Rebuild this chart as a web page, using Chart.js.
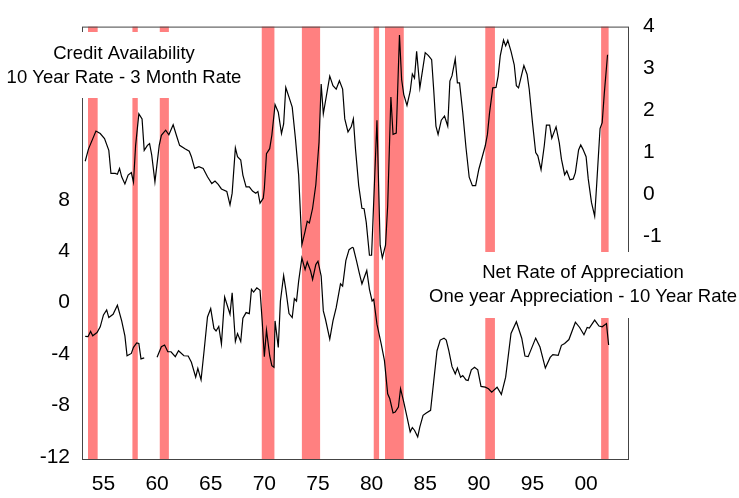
<!DOCTYPE html>
<html>
<head>
<meta charset="utf-8">
<script src="https://cdn.jsdelivr.net/npm/chart.js@4"></script>
<style>
  body { margin: 0; background: #fff; }
  #chart { display: block; }
</style>
</head>
<body>
<canvas id="chart" width="739" height="498"></canvas>
<script>
// Credit availability: 10 year rate - 3 month rate (right axis)
const creditYears = [1953.3, 1953.6, 1954.3, 1954.7, 1955.1, 1955.5, 1955.7, 1956.1, 1956.3, 1956.5, 1956.7, 1957.0, 1957.3, 1957.6, 1957.8, 1958.0, 1958.3, 1958.6, 1958.8, 1959.1, 1959.3, 1959.5, 1959.8, 1960.2, 1960.4, 1960.8, 1961.1, 1961.5, 1961.8, 1962.1, 1962.6, 1963.0, 1963.2, 1963.5, 1963.9, 1964.3, 1964.7, 1965.1, 1965.4, 1965.7, 1966.0, 1966.5, 1966.8, 1967.0, 1967.3, 1967.5, 1967.8, 1968.0, 1968.3, 1968.6, 1968.9, 1969.2, 1969.4, 1969.6, 1969.9, 1970.0, 1970.2, 1970.5, 1970.7, 1971.0, 1971.3, 1971.6, 1971.8, 1972.0, 1972.3, 1972.6, 1972.9, 1973.2, 1973.5, 1973.8, 1974.0, 1974.2, 1974.5, 1974.8, 1975.1, 1975.3, 1975.5, 1976.1, 1976.4, 1976.7, 1977.0, 1977.3, 1977.5, 1977.8, 1978.1, 1978.3, 1978.5, 1978.8, 1979.1, 1979.3, 1979.5, 1979.8, 1980.0, 1980.5, 1980.8, 1981.0, 1981.3, 1981.5, 1981.8, 1982.0, 1982.3, 1982.6, 1982.8, 1983.0, 1983.3, 1983.6, 1983.8, 1984.0, 1984.2, 1984.5, 1985.0, 1985.3, 1985.6, 1985.8, 1986.0, 1986.2, 1986.5, 1986.8, 1987.1, 1987.3, 1987.5, 1987.8, 1988.0, 1988.2, 1988.5, 1988.8, 1989.1, 1989.4, 1989.7, 1990.0, 1990.3, 1990.6, 1990.8, 1991.0, 1991.3, 1991.6, 1991.8, 1992.0, 1992.3, 1992.5, 1992.7, 1993.0, 1993.3, 1993.5, 1993.7, 1994.0, 1994.2, 1994.5, 1994.7, 1995.0, 1995.3, 1995.5, 1995.8, 1996.1, 1996.3, 1996.6, 1996.8, 1997.2, 1997.5, 1997.7, 1998.0, 1998.2, 1998.5, 1998.8, 1999.0, 1999.3, 1999.5, 1999.7, 2000.0, 2000.2, 2000.5, 2000.8, 2001.0, 2001.3, 2001.5, 2001.7, 2002.0];
const creditValues = [0.79, 1.08, 1.51, 1.45, 1.33, 1.05, 0.50, 0.50, 0.48, 0.62, 0.42, 0.25, 0.46, 0.52, 0.29, 1.17, 1.92, 1.80, 1.05, 1.17, 1.21, 0.94, 0.30, 1.17, 1.41, 1.53, 1.42, 1.66, 1.41, 1.17, 1.09, 1.03, 0.90, 0.62, 0.66, 0.62, 0.42, 0.26, 0.32, 0.24, 0.13, 0.07, -0.25, 0.03, 1.11, 0.90, 0.82, 0.46, 0.18, 0.18, 0.08, 0.03, 0.07, -0.21, -0.09, 0.14, 0.97, 1.09, 1.41, 2.14, 1.96, 1.45, 1.68, 2.55, 2.32, 2.08, 1.33, 0.46, -1.20, -0.88, -0.64, -0.68, -0.33, 0.23, 1.25, 2.63, 1.92, 2.82, 2.59, 2.51, 2.71, 2.51, 1.80, 1.49, 1.61, 1.80, 1.08, 0.21, -0.33, -0.34, -0.66, -1.45, -1.45, 1.77, -1.21, -1.51, -1.21, -0.27, 2.32, 1.43, 1.46, 3.80, 2.74, 2.38, 2.12, 2.46, 2.87, 2.77, 3.41, 2.54, 3.38, 3.31, 3.21, 2.46, 1.63, 1.43, 1.77, 1.87, 1.63, 2.70, 2.83, 3.23, 2.66, 2.66, 1.95, 1.12, 0.41, 0.21, 0.21, 0.60, 0.88, 1.16, 1.43, 1.95, 2.54, 2.55, 2.82, 3.31, 3.68, 3.54, 3.67, 3.41, 3.09, 2.59, 2.54, 2.86, 3.07, 2.86, 2.50, 1.71, 1.00, 0.92, 0.59, 1.16, 1.65, 1.65, 1.34, 1.61, 1.23, 0.84, 0.47, 0.56, 0.35, 0.37, 0.52, 1.06, 1.18, 1.08, 0.90, 0.37, -0.19, -0.52, 0.29, 1.57, 1.71, 2.42, 3.33];

// Net rate of appreciation: one year appreciation - 10 year rate (left axis), null = gap
const apprYears = [1953.3, 1953.56, 1953.8, 1954.0, 1954.4, 1954.7, 1955.0, 1955.3, 1955.5, 1955.9, 1956.3, 1956.7, 1957.0, 1957.2, 1957.6, 1957.8, 1958.1, 1958.3, 1958.5, 1958.8, 1959.4, 1960.0, 1960.4, 1960.7, 1961.0, 1961.3, 1961.7, 1962.0, 1962.5, 1962.9, 1963.2, 1963.6, 1963.8, 1964.1, 1964.4, 1964.7, 1965.0, 1965.3, 1965.5, 1965.75, 1966.0, 1966.3, 1966.8, 1967.0, 1967.3, 1967.5, 1967.8, 1968.0, 1968.3, 1968.6, 1968.8, 1969.0, 1969.3, 1969.6, 1969.8, 1970.0, 1970.2, 1970.5, 1970.7, 1970.9, 1971.0, 1971.3, 1971.5, 1971.8, 1972.0, 1972.3, 1972.6, 1972.8, 1973.0, 1973.2, 1973.5, 1973.8, 1974.0, 1974.3, 1974.5, 1974.8, 1975.0, 1975.3, 1975.5, 1975.7, 1976.1, 1976.4, 1976.7, 1977.1, 1977.3, 1977.6, 1977.9, 1978.2, 1978.3, 1978.6, 1978.85, 1979.1, 1979.55, 1979.8, 1980.05, 1980.2, 1980.5, 1980.9, 1981.2, 1981.5, 1981.7, 1982.0, 1982.2, 1982.5, 1982.7, 1983.0, 1983.3, 1983.6, 1983.8, 1984.0, 1984.3, 1984.5, 1984.8, 1985.1, 1985.5, 1985.8, 1986.1, 1986.4, 1986.75, 1986.96, 1987.2, 1987.5, 1987.8, 1988.0, 1988.3, 1988.5, 1988.8, 1989.0, 1989.3, 1989.6, 1989.9, 1990.2, 1990.6, 1990.9, 1991.2, 1991.7, 1992.1, 1992.5, 1993.0, 1993.5, 1994.0, 1994.3, 1994.6, 1995.3, 1995.7, 1996.2, 1996.65, 1996.9, 1997.4, 1997.7, 1998.0, 1998.4, 1999.0, 1999.4, 1999.8, 2000.1, 2000.3, 2000.8, 2001.2, 2001.5, 2001.9, 2002.1];
const apprValues = [-2.63, -2.65, -2.24, -2.58, -2.32, -1.88, -0.95, -0.56, -1.16, -0.90, -0.20, -1.42, -2.58, -4.13, -3.95, -3.48, -3.14, -3.17, -4.38, -4.30, null, -4.25, -3.43, -3.30, -3.82, -3.82, -4.20, -3.74, -4.13, -4.15, -4.64, -5.80, -5.11, -6.01, -3.61, -1.11, -0.46, -2.00, -2.20, -1.85, -3.22, 0.44, -0.90, 0.77, -3.02, -2.40, -3.02, -1.21, -0.77, -0.85, 1.04, 0.83, 1.16, 0.96, -1.42, -4.20, -2.14, -4.13, -4.90, -5.03, -1.42, -3.48, 0.13, 2.12, 1.04, -0.85, -1.16, 0.31, 0.13, 1.68, 3.48, 2.58, 3.17, 2.51, 1.81, 2.97, 3.23, 2.07, -0.64, -1.29, -2.83, -1.42, -0.39, 1.47, 1.29, 3.28, 4.13, 4.31, 4.26, 3.23, 2.32, 1.47, 2.51, 1.04, 0.13, 0.26, -1.67, -3.22, -4.51, -7.09, -7.48, -8.59, -8.51, -8.13, -6.70, -7.74, -8.90, -10.06, -9.72, -9.93, -10.45, -9.67, -8.77, -8.59, -8.38, -6.06, -3.74, -2.91, -2.76, -2.91, -3.74, -4.98, -5.54, -5.08, -5.80, -5.67, -6.01, -6.06, -5.23, -5.03, -5.23, -6.52, -6.58, -6.70, -6.97, -6.58, -7.14, -5.80, -2.40, -1.48, -2.77, -4.15, -4.20, -2.76, -3.45, -5.09, -4.26, -4.05, -4.10, -3.32, -3.17, -2.87, -1.52, -1.93, -2.50, -1.93, -1.98, -1.36, -1.82, -1.88, -1.63, -3.29];

// Recession periods (shaded)
const recessionStart = [1953.56, 1957.7, 1960.25, 1969.76, 1973.5, 1980.2, 1981.25, 1990.6, 2001.4];
const recessionEnd = [1954.46, 1958.2, 1961.1, 1970.94, 1975.2, 1980.7, 1983.0, 1991.5, 2002.1];

// Tick labels
const xTicks = [1955, 1960, 1965, 1970, 1975, 1980, 1985, 1990, 1995, 2000];
const leftTicks = [-12, -8, -4, 0, 4, 8];
const rightTicks = [-1, 0, 1, 2, 3, 4];

const labelFont = "18.5px 'Liberation Sans', Arial, sans-serif";

const recessionBars = {
    id: 'recessionBars',
    beforeDatasetsDraw(chart) {
        const { ctx, chartArea } = chart;
        const x = chart.scales.x;
        ctx.save();
        ctx.fillStyle = '#ff8080';
        recessionStart.forEach((s, i) => {
            const x1 = x.getPixelForValue(s);
            const x2 = x.getPixelForValue(recessionEnd[i]);
            ctx.fillRect(x1, chartArea.top, x2 - x1, chartArea.bottom - chartArea.top);
        });
        ctx.restore();
    }
};

const frameAndLabels = {
    id: 'frameAndLabels',
    afterDraw(chart) {
        const { ctx, chartArea } = chart;
        ctx.save();
        // plot frame
        ctx.strokeStyle = '#444';
        ctx.lineWidth = 1;
        ctx.strokeRect(chartArea.left + 0.5, chartArea.top + 0.5,
            chartArea.right - chartArea.left - 1, chartArea.bottom - chartArea.top - 1);

        // text boxes
        ctx.fillStyle = '#fff';
        ctx.fillRect(0, 32, 250, 66);
        ctx.fillRect(420, 252, 319, 66);

        ctx.fillStyle = '#000';
        ctx.font = labelFont;
        ctx.textAlign = 'center';
        ctx.textBaseline = 'alphabetic';
        ctx.fillText('Credit Availability', 124, 59);
        ctx.fillText('10 Year Rate - 3 Month Rate', 124, 83);
        ctx.fillText('Net Rate of Appreciation', 583, 278);
        ctx.fillText('One year Appreciation - 10 Year Rate', 583, 302);
        ctx.restore();
    }
};

Chart.defaults.font.family = "'Liberation Sans', Arial, sans-serif";
Chart.defaults.color = '#000';

const ctx = document.getElementById('chart').getContext('2d');

new Chart(ctx, {
    type: 'line',
    data: {
        datasets: [
            {
                label: 'Credit Availability',
                data: creditYears.map((yr, i) => ({ x: yr, y: creditValues[i] })),
                yAxisID: 'yRight',
                borderColor: '#000',
                borderWidth: 1.2,
                pointRadius: 0,
                tension: 0,
                fill: false
            },
            {
                label: 'Net Rate of Appreciation',
                data: apprYears.map((yr, i) => ({ x: yr, y: apprValues[i] })),
                yAxisID: 'yLeft',
                borderColor: '#000',
                borderWidth: 1.2,
                pointRadius: 0,
                tension: 0,
                spanGaps: false,
                fill: false
            }
        ]
    },
    options: {
        responsive: false,
        animation: false,
        devicePixelRatio: 1,
        layout: { padding: { top: 24, left: 0, right: 0, bottom: 0 } },
        plugins: {
            legend: { display: false },
            tooltip: { enabled: false }
        },
        scales: {
            x: {
                type: 'linear',
                min: 1953,
                max: 2004,
                grid: { display: false, drawTicks: false },
                border: { display: false },
                afterBuildTicks: (scale) => { scale.ticks = xTicks.map(v => ({ value: v })); },
                afterFit: (scale) => { scale.height = 38; },
                ticks: {
                    padding: 12,
                    maxRotation: 0,
                    autoSkip: false,
                    font: { size: 21 },
                    callback: (v) => String(v % 100).padStart(2, '0')
                }
            },
            yLeft: {
                type: 'linear',
                position: 'left',
                min: -12.25,
                max: 21.5,
                grid: { display: false, drawTicks: false },
                border: { display: false },
                afterBuildTicks: (scale) => { scale.ticks = leftTicks.map(v => ({ value: v })); },
                afterFit: (scale) => { scale.width = 82; },
                ticks: { padding: 12, font: { size: 21 } }
            },
            yRight: {
                type: 'linear',
                position: 'right',
                min: -6.33,
                max: 4,
                grid: { display: false, drawTicks: false },
                border: { display: false },
                afterBuildTicks: (scale) => { scale.ticks = rightTicks.map(v => ({ value: v })); },
                afterFit: (scale) => { scale.width = 110; },
                ticks: { padding: 14, font: { size: 21 } }
            }
        }
    },
    plugins: [recessionBars, frameAndLabels]
});
</script>
</body>
</html>
